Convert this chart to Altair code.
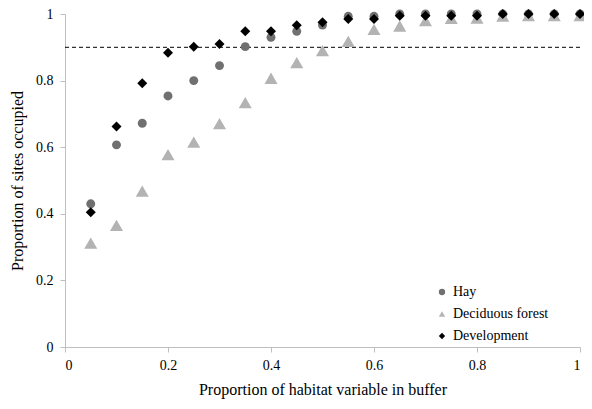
import altair as alt
import pandas as pd

x_vals = [0.05, 0.10, 0.15, 0.20, 0.25, 0.30, 0.35, 0.40, 0.45, 0.50,
          0.55, 0.60, 0.65, 0.70, 0.75, 0.80, 0.85, 0.90, 0.95, 1.00]
hay = [0.430, 0.607, 0.672, 0.754, 0.800, 0.845, 0.902, 0.930, 0.948, 0.967,
       0.993, 0.993, 1.000, 1.000, 1.000, 1.000, 1.000, 1.000, 1.000, 1.000]
deciduous = [0.312, 0.365, 0.468, 0.578, 0.615, 0.671, 0.734, 0.807, 0.854, 0.890,
             0.918, 0.954, 0.964, 0.980, 0.987, 0.988, 0.994, 0.995, 0.995, 0.995]
development = [0.405, 0.662, 0.792, 0.884, 0.902, 0.910, 0.948, 0.948, 0.966, 0.975,
               0.985, 0.985, 0.995, 0.995, 0.995, 0.995, 1.000, 1.000, 1.000, 1.000]
series_names = ["Hay", "Deciduous forest", "Development"]
series_colors = ["#707070", "#b3b3b3", "#000000"]
series_shapes = ["circle", "triangle-up", "diamond"]
series_sizes = [80, 170, 100]
threshold = [0.9]

rows = []
for name, vals, sz in zip(series_names, [hay, deciduous, development], series_sizes):
    for xv, yv in zip(x_vals, vals):
        rows.append({"x": xv, "y": yv, "series": name, "sz": sz})
df = pd.DataFrame(rows)
df["order"] = range(len(df))

FONT = "Liberation Serif"

xscale = alt.Scale(domain=[0, 1], nice=False, zero=True)
yscale = alt.Scale(domain=[0, 1], nice=False)

leg = alt.Legend(title=None, orient="none", legendX=370, legendY=271,
                 symbolSize=40, rowPadding=8, labelOffset=4, padding=0,
                 symbolStrokeWidth=0, labelFont=FONT, labelFontSize=14,
                 labelColor="black")

points = alt.Chart(df).mark_point(filled=True, opacity=1, strokeWidth=0).encode(
    x=alt.X("x:Q", scale=xscale,
            axis=alt.Axis(title="Proportion of habitat variable in buffer",
                          values=[0, 0.2, 0.4, 0.6, 0.8, 1], format="~g",
                          grid=False, tickSize=5, labelPadding=6, titlePadding=9,
                          labelFont=FONT, titleFont=FONT)),
    y=alt.Y("y:Q", scale=yscale,
            axis=alt.Axis(title="Proportion of sites occupied",
                          values=[0, 0.2, 0.4, 0.6, 0.8, 1], format="~g",
                          grid=False, tickSize=5, labelPadding=7, titlePadding=10,
                          labelFont=FONT, titleFont=FONT)),
    color=alt.Color("series:N",
                    scale=alt.Scale(domain=series_names, range=series_colors),
                    legend=leg),
    shape=alt.Shape("series:N",
                    scale=alt.Scale(domain=series_names, range=series_shapes),
                    legend=leg),
    size=alt.Size("sz:Q", scale=None, legend=None),
    order=alt.Order("order:Q"),
)

rule = alt.Chart(pd.DataFrame({"t": threshold})).mark_rule(
    color="black", strokeDash=[4, 3], strokeWidth=1
).encode(y=alt.Y("t:Q", scale=yscale))

chart = alt.layer(rule, points).properties(
    width=515, height=333,
    autosize=alt.AutoSizeParams(type="none"),
    padding={"left": 57, "top": 6, "right": 4, "bottom": 54},
).configure(font=FONT).configure_view(stroke=None).configure_axis(
    domainColor="#bfbfbf", tickColor="#bfbfbf",
    labelFont=FONT, titleFont=FONT, labelFontSize=14, titleFontSize=16,
    labelColor="black", titleColor="black", titleFontWeight="normal",
).configure_legend(
    labelFont=FONT, labelFontSize=14, labelColor="black"
)

chart.save("out.html", embed_options={"renderer": "svg", "actions": False})
